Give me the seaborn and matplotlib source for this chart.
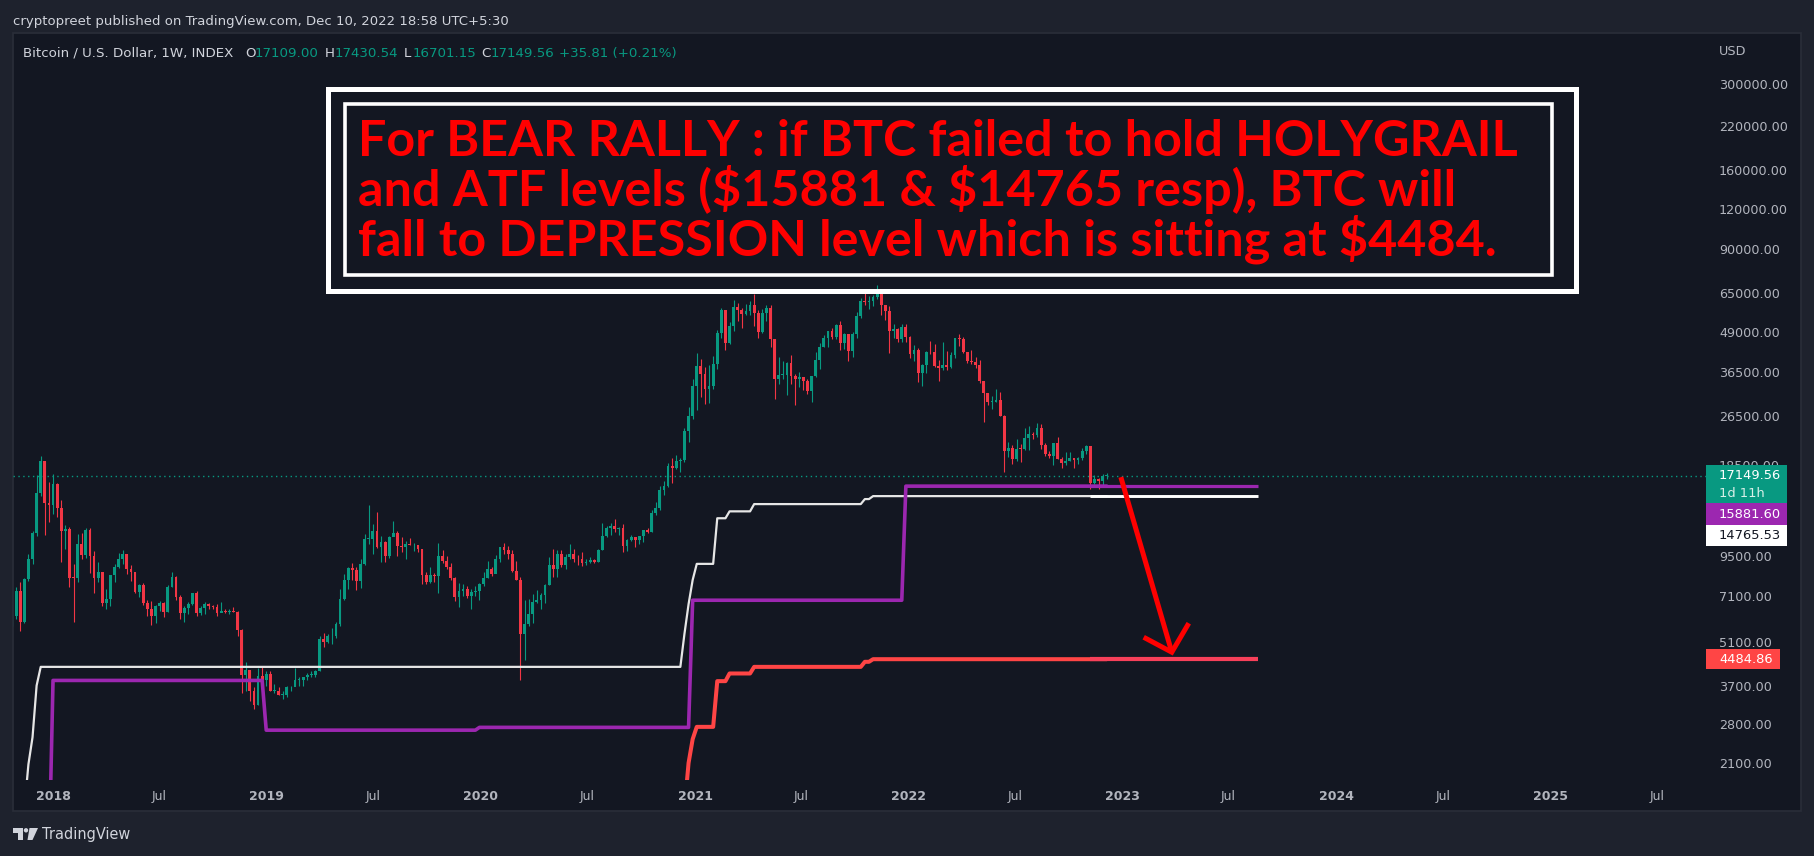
import numpy as np
import pandas as pd
import matplotlib
matplotlib.use("Agg")
import matplotlib.pyplot as plt
import matplotlib.dates as mdates
from matplotlib.patches import Rectangle, Polygon, Circle
from matplotlib.ticker import NullLocator
import seaborn as sns

# ---------------------------------------------------------------------------
# data : weekly BTC candles (high, low, close), weeks start on Monday
# ---------------------------------------------------------------------------
first_week = "2017-10-23"
first_open = 5990
last_open = 17109.00

w2017 = [(6250, 5700, 6130), (7600, 6030, 7380), (7880, 5500, 5880), (8100, 5850, 8040),
         (9700, 7950, 9320), (11450, 9020, 11290), (17200, 11050, 15060), (19800, 14800, 19040),
         (19100, 11100, 14030), (16400, 12200, 13880)]

w2018 = [(17400, 13000, 16150), (16300, 12700, 13530), (14400, 9100, 11430), (12000, 10000, 11650),
         (11800, 7600, 8110), (9000, 5900, 8100), (11200, 7900, 10400), (11300, 9300, 9600),
         (11700, 9400, 11500), (11700, 8400, 9500), (9900, 7260, 8100), (9100, 7900, 8480),
         (8500, 6600, 6750), (7500, 6450, 6950), (8250, 6600, 8300), (9000, 7900, 8800),
         (9750, 8750, 9330), (9950, 9000, 9650), (9650, 8350, 8700), (8900, 7950, 8500),
         (8500, 7300, 7350), (7750, 7050, 7700), (7800, 6650, 6750), (6900, 6150, 6450),
         (6850, 5750, 6150), (6650, 5850, 6600), (6850, 6400, 6750), (6800, 6100, 6350),
         (7700, 6350, 7600), (8500, 7600, 8200), (8250, 6900, 7050), (7150, 6000, 6300),
         (6600, 5900, 6500), (6800, 6250, 6700), (7300, 6650, 7280), (7400, 6150, 6300),
         (6600, 6200, 6500), (6800, 6250, 6700), (6750, 6450, 6600), (6650, 6450, 6550),
         (6700, 6150, 6300), (6800, 6350, 6400), (6450, 6300, 6350), (6450, 6250, 6400),
         (6550, 6330, 6350), (6400, 5300, 5550), (5600, 3500, 4010), (4400, 3550, 4140),
         (4150, 3300, 3550), (3650, 3120, 3200), (4200, 3200, 3980), (4250, 3600, 3850)]

w2019 = [(4100, 3700, 4030), (4100, 3550, 3550), (3750, 3500, 3550), (3650, 3450, 3450),
         (3550, 3350, 3450), (3700, 3400, 3650), (3700, 3550, 3650), (4200, 3700, 3850),
         (3950, 3700, 3850), (3950, 3700, 3950), (4050, 3850, 4000), (4100, 3950, 4000),
         (4150, 3950, 4100), (5300, 4100, 5200), (5450, 4900, 5100), (5400, 5050, 5300),
         (5650, 5000, 5300), (5900, 5250, 5800), (7500, 5700, 6950), (8350, 6900, 8000),
         (8800, 7500, 8750), (9050, 8000, 8600), (8800, 7450, 7950), (9300, 7550, 9000),
         (11200, 8950, 10800), (13800, 10400, 10800), (12050, 9650, 11450), (13150, 10100, 10200),
         (11050, 9100, 10550), (10650, 9150, 9500), (11050, 9400, 10950), (12300, 11000, 11300),
         (11450, 9500, 10250), (10950, 9800, 10150), (10650, 9350, 10400), (10900, 10300, 10300),
         (10450, 9900, 10300), (10350, 9800, 10000), (10000, 7750, 8300), (8500, 7750, 7900),
         (8800, 7800, 8300), (8400, 7900, 8250), (10500, 7300, 9550), (9950, 9050, 9200),
         (9500, 8700, 8800), (9050, 8000, 8100), (8200, 6850, 7050), (7850, 6550, 7400),
         (7750, 7100, 7500), (7650, 7000, 7100), (7500, 6450, 7350), (7650, 7100, 7400)]

w2020 = [(7800, 6900, 7750), (8450, 7650, 8100), (9200, 8100, 8650), (8800, 8250, 8350),
         (9600, 8600, 9350), (10150, 9150, 10150), (10500, 9700, 9950), (10250, 9300, 9650),
         (9950, 8450, 8550), (9200, 8000, 8000), (8150, 3850, 5400), (6900, 4450, 5800),
         (6950, 5700, 6250), (7200, 5850, 6800), (7450, 6750, 6900), (7300, 6450, 7150),
         (7750, 6750, 7700), (9450, 7700, 8900), (10050, 8150, 8700), (9950, 8200, 9700),
         (9950, 8800, 8900), (9700, 8650, 9450), (10400, 9300, 9700), (10000, 9100, 9350),
         (9600, 8950, 9300), (9800, 8850, 9050), (9300, 8950, 9100), (9450, 9050, 9250),
         (9350, 9050, 9150), (10000, 9150, 9950), (12100, 9950, 11050), (11900, 10950, 11700),
         (12100, 11150, 11850), (12450, 11400, 11650), (11750, 11100, 11700), (12050, 9850, 10250),
         (10800, 9900, 10700), (11100, 10650, 10950), (10950, 10150, 10750), (11050, 10400, 11050),
         (11550, 10550, 11500), (11700, 11250, 11350), (13350, 11400, 13050), (14100, 12900, 13550),
         (15950, 13300, 15450), (16450, 14900, 15950), (18800, 15800, 18400), (19450, 16200, 18150),
         (19900, 18050, 19150), (19450, 17600, 19250), (24300, 19000, 23800), (28400, 21900, 26450)]

w2021 = [(34800, 26000, 33000), (41950, 27700, 38200), (40100, 30400, 36100), (37850, 28850, 32300),
         (38500, 29250, 33100), (41000, 32300, 38900), (49700, 37400, 48600), (58350, 47000, 57500),
         (57500, 43000, 45200), (52600, 44950, 51200), (61800, 49300, 59000), (60600, 53200, 57400),
         (58400, 50300, 55800), (60000, 55500, 57100), (61300, 55500, 59800), (64850, 51000, 56200),
         (57500, 47000, 49000), (58000, 48800, 56400), (59600, 53000, 58200), (59500, 43800, 46400),
         (46650, 30000, 34700), (40900, 33400, 35700), (39500, 34800, 35800), (39400, 31000, 39100),
         (41350, 33400, 35500), (36000, 28800, 34700), (36600, 32700, 35300), (35100, 32100, 34250),
         (34700, 31100, 31800), (35400, 29300, 35400), (42200, 35200, 39850), (45300, 37500, 43800),
         (48100, 43800, 47000), (49400, 43950, 49300), (50500, 46400, 47150), (51900, 46500, 51700),
         (52900, 42800, 45150), (48800, 43400, 48300), (47000, 39600, 42700), (49000, 40800, 48200),
         (56600, 46900, 54900), (62900, 54100, 61500), (67000, 59500, 60900), (63700, 58000, 61300),
         (64300, 59400, 63300), (69000, 62300, 65500), (66300, 55600, 59700), (59300, 53300, 57300),
         (59100, 42000, 49400), (51950, 46800, 50100), (50300, 45600, 46700), (51900, 45500, 50800)]

w2022 = [(52000, 45700, 47300), (47550, 40600, 41850), (44400, 39650, 43100), (43500, 34000, 36300),
         (38900, 32900, 38500), (42600, 36300, 42400), (45850, 41700, 42200), (44750, 38000, 38350),
         (39850, 34300, 37700), (45400, 37200, 38400), (42500, 37200, 37800), (42350, 37600, 41300),
         (47000, 40500, 46850), (48200, 44200, 46400), (47150, 42100, 42200), (42400, 39200, 39700),
         (42950, 38700, 39450), (40800, 37600, 38450), (40000, 33750, 34300), (34300, 25400, 31300),
         (31300, 28650, 29450), (30600, 28000, 29450), (32200, 29300, 29900), (31700, 26600, 26600),
         (26800, 17600, 20550), (21900, 19650, 21050), (21500, 18650, 19300), (22400, 19050, 20850),
         (21600, 18950, 20800), (24250, 20750, 22600), (24600, 20700, 23300), (23600, 22450, 23150),
         (25200, 22700, 24300), (25000, 20800, 21500), (21800, 19850, 20050), (20600, 19550, 19800),
         (21800, 18550, 21800), (22700, 19350, 19400), (19650, 18150, 18800), (20350, 18500, 19050),
         (20450, 19100, 19450), (19550, 18150, 19200), (19700, 18650, 19550), (21000, 19250, 20600),
         (21450, 20050, 21300), (21050, 15600, 16300), (17200, 16150, 16700), (16800, 15500, 16450),
         (17400, 16000, 17113.75), (17430.54, 16701.15, 17149.56)]

# indicator levels (week the level starts, value)
holygrail_dates = ["2017-12-25", "2018-01-01", "2018-12-31", "2019-12-30", "2020-12-28", "2021-12-27"]
holygrail_levels = [1000, 3840, 2670, 2725, 6900, 15881.60]

atf_dates = ["2017-11-13", "2017-11-20", "2017-11-27", "2017-12-04", "2017-12-11", "2020-12-14",
             "2020-12-21", "2020-12-28", "2021-01-04", "2021-02-08", "2021-03-01", "2021-04-12",
             "2021-10-18", "2021-11-01"]
atf_levels = [1500, 2080, 2535, 3700, 4240, 5400, 6700, 8000, 9000, 12560, 13210, 13930, 14450, 14765.53]

depression_dates = ["2020-12-14", "2020-12-21", "2020-12-28", "2021-01-04", "2021-02-08", "2021-03-01",
                    "2021-04-12", "2021-10-18", "2021-11-01"]
depression_levels = [1500, 2100, 2500, 2735, 3820, 4040, 4240, 4400, 4484.86]

ray_start = "2022-11-07"
ray_end = "2023-08-21"

# hand drawn arrow (start, tip) and the two wings of the head
arrow_dates = ["2022-12-29", "2023-03-26"]
arrow_prices = [16960, 4720]
wing_dates = ["2023-02-06", "2023-03-26", "2023-04-24"]
wing_prices = [5265, 4720, 5834]

price_ticks = [300000, 220000, 160000, 120000, 90000, 65000, 49000, 36500, 26500, 18500,
               9500, 7100, 5100, 3700, 2800, 2100]
year_ticks = ["2018", "2019", "2020", "2021", "2022", "2023", "2024", "2025"]

header = "cryptopreet published on TradingView.com, Dec 10, 2022 18:58 UTC+5:30"
title_line = "Bitcoin / U.S. Dollar, 1W, INDEX"
note_lines = ["For BEAR RALLY : if BTC failed to hold HOLYGRAIL",
              "and ATF levels ($15881 & $14765 resp), BTC will",
              "fall to DEPRESSION level which is sitting at $4484."]
countdown = "1d 11h"

# ---------------------------------------------------------------------------
# colours
# ---------------------------------------------------------------------------
BG_OUT = "#1e222d"
BG = "#131722"
GREEN = "#089981"
RED = "#f23645"
TXT = "#b2b5be"
PURPLE = "#9c27b0"
DEP_RED = "#ff4545"

sns.set_theme(style="dark", rc={"figure.facecolor": BG_OUT, "axes.facecolor": BG})
plt.rcParams["font.family"] = ["DejaVu Sans"]

candles = w2017 + w2018 + w2019 + w2020 + w2021 + w2022
highs = np.array([c[0] for c in candles], dtype=float)
lows = np.array([c[1] for c in candles], dtype=float)
closes = np.array([c[2] for c in candles], dtype=float)
opens = np.r_[first_open, closes[:-1]]
opens[-1] = last_open
weeks = pd.date_range(first_week, periods=len(candles), freq="W-MON")
xs = mdates.date2num(weeks)

W, H = 1814, 856
fig = plt.figure(figsize=(W / 100, H / 100), dpi=100, facecolor=BG_OUT)

# background panel
bg = fig.add_axes([0, 0, 1, 1], zorder=0)
bg.set_xlim(0, W)
bg.set_ylim(H, 0)
bg.axis("off")
bg.add_patch(Rectangle((12.5, 33), 1801 - 12.5, 811 - 33, facecolor=BG, edgecolor="#2a2e39", lw=1.2))

# main chart
ax = fig.add_axes([13 / W, (H - 780) / H, (1706 - 13) / W, (780 - 33) / H], zorder=1)
ax.patch.set_alpha(0)
ax.set_yscale("log")

ax.axhline(closes[-1], color=GREEN, lw=1, ls=(0, (1, 2.5)), zorder=2)

up = closes >= opens
colors = np.where(up, GREEN, RED)
ax.vlines(xs, lows, highs, colors=colors, lw=0.8, zorder=3)
body_h = np.maximum(np.abs(closes - opens), np.minimum(opens, closes) * 0.006)
ax.bar(xs, body_h, bottom=np.minimum(opens, closes), width=4.8, color=colors, lw=0, zorder=3)

for dates, levels, col, lw in [(atf_dates, atf_levels, "#e6e6e6", 1.6),
                               (holygrail_dates, holygrail_levels, PURPLE, 2.6),
                               (depression_dates, depression_levels, DEP_RED, 2.9)]:
    s = pd.Series(levels, index=pd.to_datetime(dates)).reindex(weeks, method="ffill").dropna()
    sns.lineplot(x=mdates.date2num(s.index), y=s.values, color=col, lw=lw, ax=ax, zorder=4)

r0, r1 = mdates.datestr2num(ray_start), mdates.datestr2num(ray_end)
ax.hlines(holygrail_levels[-1], r0, r1, color=PURPLE, lw=2.3, zorder=4)
ax.hlines(atf_levels[-1], r0, r1, color="#ffffff", lw=2.1, zorder=4)
ax.hlines(depression_levels[-1], r0, r1, color="#f7405a", lw=3.0, zorder=4)

ax.plot(mdates.datestr2num(arrow_dates), arrow_prices, color="#ff0000", lw=3.6,
        solid_capstyle="butt", zorder=5)
ax.plot([mdates.datestr2num(d) for d in wing_dates], wing_prices, color="#ff0000", lw=3.6,
        solid_capstyle="butt", solid_joinstyle="miter", zorder=5)

ax.set_xlim(mdates.datestr2num("2017-10-24 16:00"), mdates.datestr2num("2025-09-23"))
ax.set_ylim(1855, 435500)
ax.yaxis.tick_right()
ax.set_yticks(price_ticks)
ax.set_yticklabels([f"{v:.2f}" for v in price_ticks])
ax.yaxis.set_minor_locator(NullLocator())
ax.tick_params(axis="y", length=0, pad=9.4, labelsize=9.2, labelcolor=TXT)

tick_dates, tick_labels = [], []
for y in year_ticks:
    tick_dates += [f"{y}-01-01", f"{y}-07-01"]
    tick_labels += [y, "Jul"]
ax.set_xticks([mdates.datestr2num(d) for d in tick_dates])
ax.set_xticklabels(tick_labels)
ax.xaxis.set_minor_locator(NullLocator())
ax.tick_params(axis="x", length=0, pad=7.4, labelsize=9, labelcolor=TXT)
for lbl in ax.get_xticklabels():
    if lbl.get_text() != "Jul":
        lbl.set_fontweight("bold")
for sp in ax.spines.values():
    sp.set_visible(False)
ax.grid(False)
ax.set_xlabel("")
ax.set_ylabel("")

# overlay in pixel coordinates
ov = fig.add_axes([0, 0, 1, 1], zorder=2)
ov.set_xlim(0, W)
ov.set_ylim(H, 0)
ov.axis("off")
renderer = fig.canvas.get_renderer()


def fit(txt, width):
    w = txt.get_window_extent(renderer=renderer).width
    txt.set_fontsize(txt.get_fontsize() * width / w)
    return txt.get_fontsize()


def price_px(p):
    return H - ax.transData.transform((ax.get_xlim()[0], p))[1]


fit(ov.text(13, 21, header, color="#d1d4dc", fontsize=9, va="center", ha="left"), 494)

chg = closes[-1] - closes[-2]
legend_bits = [(title_line, 23, "#d1d4dc"), ("O", 245.5, "#d1d4dc"), (f"{opens[-1]:.2f}", 254.5, GREEN),
               ("H", 325, "#d1d4dc"), (f"{highs[-1]:.2f}", 334.8, GREEN), ("L", 404, "#d1d4dc"),
               (f"{lows[-1]:.2f}", 413, GREEN), ("C", 481, "#d1d4dc"), (f"{closes[-1]:.2f}", 491, GREEN),
               (f"{chg:+.2f} ({chg / closes[-2] * 100:+.2f}%)", 559, GREEN)]
fs_leg = None
for i, (s, x, c) in enumerate(legend_bits):
    t = ov.text(x, 53, s, color=c, fontsize=9, va="center", ha="left")
    if i == 0:
        fs_leg = fit(t, 211)
    else:
        t.set_fontsize(fs_leg)

ov.text(1719, 51, "USD", color=TXT, fontsize=9.2, va="center", ha="left")

# note box
ov.add_patch(Rectangle((327.5, 88.5), 1575.5 - 327.5, 290.5 - 88.5, fill=False, edgecolor="white", lw=3.6))
ov.add_patch(Rectangle((345, 104), 1552 - 345, 275 - 104, fill=False, edgecolor="white", lw=2.6))
t1 = ov.text(358, 156, note_lines[0], color="#ff0000", fontsize=30, fontfamily="Lato",
             fontweight="bold", va="baseline", ha="left", parse_math=False)
fs_note = fit(t1, 1159)
for s, yb in zip(note_lines[1:], [205.5, 255]):
    ov.text(358, yb, s, color="#ff0000", fontsize=fs_note, fontfamily="Lato",
            fontweight="bold", va="baseline", ha="left", parse_math=False)

# price labels on the scale
yc = price_px(closes[-1])
top = yc - 10.5
ov.add_patch(Rectangle((1706, top), 81, 38, facecolor=GREEN, lw=0))
ov.text(1719, yc, f"{closes[-1]:.2f}", color="white", fontsize=9.4, va="center", ha="left")
ov.text(1719, yc + 17.5, countdown, color="#d7f0e8", fontsize=9.4, va="center", ha="left")
ov.add_patch(Rectangle((1706, top + 38), 81, 22, facecolor=PURPLE, lw=0))
ov.text(1719, top + 49, f"{holygrail_levels[-1]:.2f}", color="white", fontsize=9.4, va="center", ha="left")
ov.add_patch(Rectangle((1706, top + 60), 81, 21, facecolor="white", lw=0))
ov.text(1719, top + 70.5, f"{atf_levels[-1]:.2f}", color="#131722", fontsize=9.4, va="center", ha="left")
yr = price_px(depression_levels[-1])
ov.add_patch(Rectangle((1706, yr - 10), 74, 20, facecolor=DEP_RED, lw=0))
ov.text(1719, yr, f"{depression_levels[-1]:.2f}", color="white", fontsize=9.4, va="center", ha="left")

# TradingView mark
ov.add_patch(Polygon([(12.8, 828), (22.5, 828), (22.5, 840), (17.5, 840), (17.5, 832.5), (12.8, 832.5)],
                     closed=True, facecolor="#d1d4dc", lw=0))
ov.add_patch(Circle((26, 830.3), 2.2, facecolor="#d1d4dc", lw=0))
ov.add_patch(Polygon([(29.5, 828), (38, 828), (32.5, 840), (27.5, 840)], closed=True,
                     facecolor="#d1d4dc", lw=0))
fit(ov.text(42, 834, "TradingView", color="#d1d4dc", fontsize=10, va="center", ha="left"), 88)

fig.savefig("out.png", dpi=100, facecolor=BG_OUT)
